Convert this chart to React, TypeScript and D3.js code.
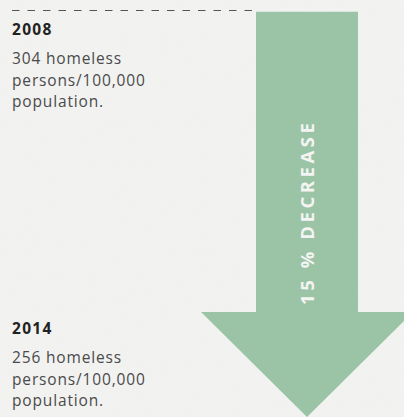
import React, { useEffect } from "react";
import * as d3 from "d3";

const years = ["2008", "2014"];
const values = [304, 256];
const descLines = [
  ["304 homeless", "persons/100,000", "population."],
  ["256 homeless", "persons/100,000", "population."],
];
const changeLabel = "15 % DECREASE";

const W = 404;
const H = 417;

export default function App() {
  useEffect(() => {
    document.body.style.margin = "0";
  }, []);

  // value scale: the arrow runs from the 2008 value down to the 2014 value
  const y = d3.scaleLinear().domain([values[0], values[1]]).range([11.7, 417]);
  const yTop = y(values[0]);
  const yTip = y(values[1]);
  const cx = 307;
  const shaftHalf = 51;
  const headHalf = 106;
  const headTop = yTip - 105;

  const path = d3.path();
  path.moveTo(cx - shaftHalf, yTop);
  path.lineTo(cx + shaftHalf, yTop);
  path.lineTo(cx + shaftHalf, headTop);
  path.lineTo(cx + headHalf, headTop);
  path.lineTo(cx, yTip);
  path.lineTo(cx - headHalf, headTop);
  path.lineTo(cx - shaftHalf, headTop);
  path.closePath();

  const blockY = [35, 334];
  const font = "'Open Sans', 'DejaVu Sans', sans-serif";

  return (
    <svg width={W} height={H} style={{ display: "block", background: "#f3f3f2" }}>
      <defs>
        <filter id="paper" x="0" y="0" width="100%" height="100%">
          <feTurbulence type="fractalNoise" baseFrequency="0.9" numOctaves="2" seed="3" result="n" />
          <feColorMatrix type="matrix" values="0 0 0 0 0.5  0 0 0 0 0.5  0 0 0 0 0.5  0 0 0 0.05 0" />
        </filter>
      </defs>
      <rect width={W} height={H} fill="#f3f3f2" />
      <rect width={W} height={H} filter="url(#paper)" />
      <line x1={12} x2={cx - shaftHalf} y1={10.5} y2={10.5} stroke="#555" strokeWidth={1} strokeDasharray="7.5 8" />
      <path d={path.toString()} fill="#9bc4a7" />
      <text
        transform={`translate(${cx + 6.5},214) rotate(-90)`}
        textAnchor="middle"
        fontFamily={font}
        fontWeight={700}
        fontSize={18.5}
        textLength={182}
        lengthAdjust="spacing"
        fill="#f4f4f2"
      >
        {changeLabel}
      </text>
      {years.map((yr, i) => (
        <g key={yr} fontFamily={font}>
          <text x={12} y={blockY[i]} fontSize={15.5} fontWeight={700} letterSpacing={1.3} fill="#222">
            {yr}
          </text>
          {descLines[i].map((l, j) => (
            <text key={j} x={12} y={blockY[i] + 29 + j * 21.5} fontSize={15.5} letterSpacing={0.85} fill="#4a4a4a">
              {l}
            </text>
          ))}
        </g>
      ))}
    </svg>
  );
}
